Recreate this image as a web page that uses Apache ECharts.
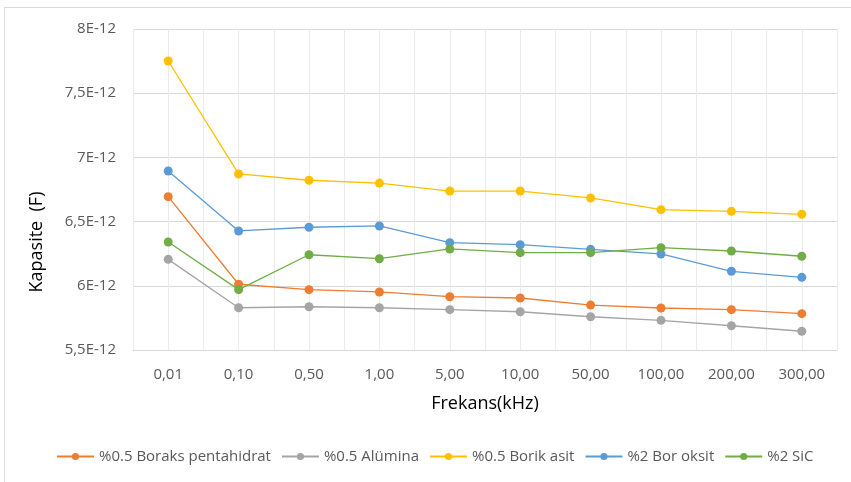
<!DOCTYPE html>
<html><head><meta charset="utf-8">
<script src="https://cdn.jsdelivr.net/npm/echarts@6/dist/echarts.min.js"></script>
<style>html,body{margin:0;padding:0;background:#fff}#c{width:851px;height:482px}</style>
</head><body><div id="c"></div>
<script>
// values in units of 1E-12 F
const categories = ['0,01','0,10','0,50','1,00','5,00','10,00','50,00','100,00','200,00','300,00'];
const boraks = [6.694,6.012,5.970,5.952,5.915,5.905,5.850,5.827,5.814,5.783];
const alumina = [6.206,5.829,5.837,5.829,5.814,5.798,5.759,5.731,5.689,5.646];
const borik = [7.751,6.871,6.822,6.800,6.738,6.738,6.684,6.593,6.580,6.557];
const borOksit = [6.894,6.427,6.456,6.466,6.336,6.320,6.284,6.248,6.113,6.066];
const sic = [6.341,5.970,6.242,6.211,6.287,6.258,6.258,6.297,6.271,6.230];
const seriesNames = ['%0.5 Boraks pentahidrat','%0.5 Alümina','%0.5 Borik asit','%2 Bor oksit','%2 SiC'];
const colors = ['#ED7D31','#A5A5A5','#FFC000','#5B9BD5','#70AD47'];
const yTicks = ['5,5E-12','6E-12','6,5E-12','7E-12','7,5E-12','8E-12'];

const font = '"Open Sans", sans-serif';
const vGrid = '#ebebeb';
const chart = echarts.init(document.getElementById('c'), null, {renderer:'canvas'});
const data = [boraks, alumina, borik, borOksit, sic];
const series = data.map((d,i)=>({name:seriesNames[i],type:'line',data:d,
    symbol:'circle',symbolSize:9,itemStyle:{color:colors[i]},
    lineStyle:{color:colors[i],width:1.3},z:5}));
series.push({name:'_grid',type:'line',data:[],silent:true,z:1,
  markLine:{silent:true,symbol:['none','none'],label:{show:false},animation:false,
    lineStyle:{color:vGrid,width:1,type:'solid'},
    data:categories.map(c=>({xAxis:c}))}});
chart.setOption({
  animation:false,
  graphic:[
    {type:'rect',shape:{x:4.5,y:7.5,width:860,height:500},style:{fill:null,stroke:'#d9d9d9',lineWidth:1},z:-1},
    {type:'text',x:37,y:242,rotation:Math.PI/2,style:{text:'Kapasite  (F)',fill:'#000',font:'18px "Open Sans"',align:'center',verticalAlign:'middle'}}
  ],
  grid:{left:133,right:14,top:29,bottom:132},
  legend:{bottom:13,left:51,itemWidth:37,itemHeight:9,itemGap:10,
    textStyle:{color:'#595959',fontSize:15,fontFamily:font},
    data:seriesNames},
  xAxis:{type:'category',data:categories,boundaryGap:true,
    name:'Frekans(kHz)',nameLocation:'middle',nameGap:45,
    nameTextStyle:{color:'#000',fontSize:18,fontFamily:font},
    axisLine:{lineStyle:{color:'#d9d9d9'}},axisTick:{show:false},
    axisLabel:{color:'#595959',fontSize:15,fontFamily:font,margin:17},
    splitLine:{show:true,interval:0,lineStyle:{color:vGrid,width:1}},z:3},
  yAxis:{type:'value',min:5.5,max:8,interval:0.5,
    axisLine:{show:false},axisTick:{show:false},
    axisLabel:{color:'#595959',fontSize:15,fontFamily:font,margin:17,
      formatter:(v)=>yTicks[Math.round((v-5.5)/0.5)]},
    splitLine:{lineStyle:{color:'#d9d9d9'}},z:2},
  series:series
});
</script></body></html>
